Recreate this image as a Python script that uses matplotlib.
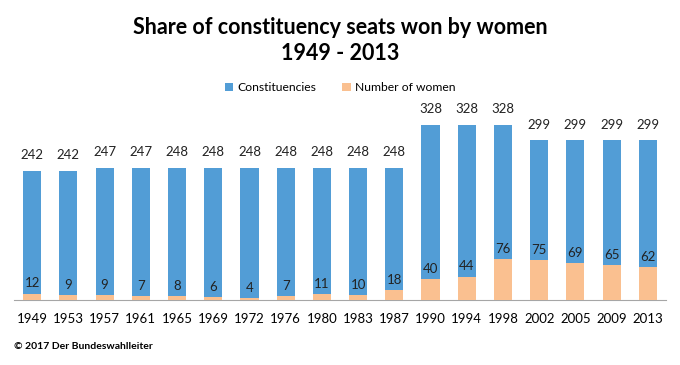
import matplotlib
matplotlib.use('Agg')
import matplotlib.pyplot as plt
import numpy as np

# 데이터
years = ['1949', '1953', '1957', '1961', '1965', '1969', '1972', '1976', '1980',
         '1983', '1987', '1990', '1994', '1998', '2002', '2005', '2009', '2013']
constituencies = [242, 242, 247, 247, 248, 248, 248, 248, 248,
                  248, 248, 328, 328, 328, 299, 299, 299, 299]
women = [12, 9, 9, 7, 8, 6, 4, 7, 11, 10, 18, 40, 44, 76, 75, 69, 65, 62]

plt.rcParams['font.family'] = ['Lato', 'DejaVu Sans']

blue = '#529DD6'
peach = '#FAC090'

fig = plt.figure(figsize=(6.8, 3.65), dpi=100)
ax = fig.add_axes([0.0206, 0.178, 0.9588, 0.585])

x = np.arange(len(years))
ax.bar(x, constituencies, width=0.5, color=blue, label='Constituencies', zorder=2)
ax.bar(x, women, width=0.5, color=peach, label='Number of women', zorder=3)

for xi, v in zip(x, constituencies):
    ax.annotate(str(v), (xi, v), xytext=(0, 7), textcoords='offset points',
                ha='center', va='bottom', fontsize=9.5, color='#222222')
for xi, v in zip(x, women):
    ax.annotate(str(v), (xi, v), xytext=(0, 3), textcoords='offset points',
                ha='center', va='bottom', fontsize=9.5, color='#222222', zorder=4)

ax.set_xlim(-0.5, len(years) - 0.5)
ax.set_ylim(0, 400)
ax.set_xticks(x)
ax.set_xticklabels(years, fontsize=9.5)
ax.tick_params(axis='x', length=0, pad=9)
ax.set_yticks([])
for s in ['top', 'right', 'left']:
    ax.spines[s].set_visible(False)
ax.spines['bottom'].set_color('#A6A6A6')

fig.text(0.5, 0.925, 'Share of constituency seats won by women', ha='center', va='center',
         fontsize=15.5, fontweight='bold')
fig.text(0.5, 0.853, '1949 - 2013', ha='center', va='center', fontsize=15.5, fontweight='bold')

fig.legend(loc='center', bbox_to_anchor=(0.5, 0.76), ncol=2, frameon=False, fontsize=8.7,
           handlelength=0.7, handleheight=0.7, handletextpad=0.3, columnspacing=2.2)

fig.text(0.02, 0.05, '\u00a9 2017 Der Bundeswahlleiter', ha='left', va='center',
         fontsize=7.5, fontweight='bold')

fig.savefig('out.png', dpi=100)
